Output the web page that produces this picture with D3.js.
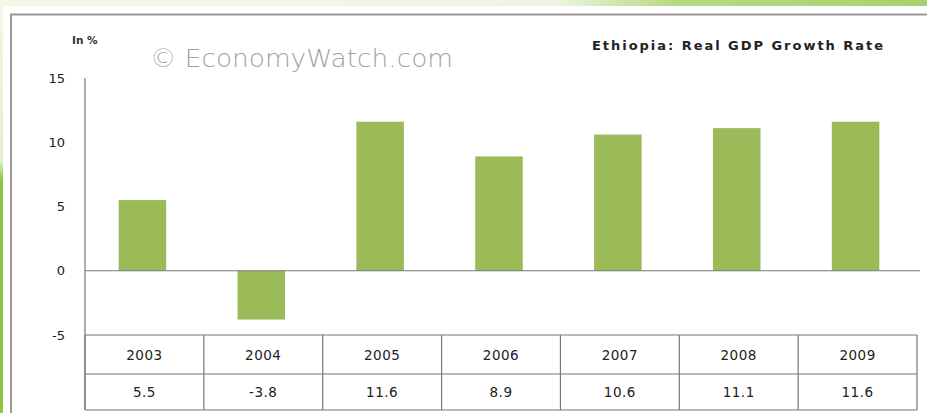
<!DOCTYPE html>
<html><head><meta charset="utf-8">
<script src="https://cdn.jsdelivr.net/npm/d3@7"></script>
<style>body{margin:0;background:#fff;}svg{display:block;}</style>
</head><body>
<svg id="c" width="927" height="413"></svg>
<script>
const years = ["2003","2004","2005","2006","2007","2008","2009"];
const growth = [5.5, -3.8, 11.6, 8.9, 10.6, 11.1, 11.6];
const valueLabels = ["5.5","-3.8","11.6","8.9","10.6","11.1","11.6"];
const yTicks = [15, 10, 5, 0, -5];
const title = "Ethiopia: Real GDP Growth Rate";
const unitLabel = "In %";
const watermark = "\u00A9 EconomyWatch.com";

const svg = d3.select("#c");
const defs = svg.append("defs");
const tg = defs.append("linearGradient").attr("id","tg").attr("x1",0).attr("x2",1).attr("y1",0).attr("y2",0);
tg.append("stop").attr("offset","0").attr("stop-color","#f1f8e6");
tg.append("stop").attr("offset","0.6").attr("stop-color","#eef6e2");
tg.append("stop").attr("offset","0.72").attr("stop-color","#b9da85");
tg.append("stop").attr("offset","1").attr("stop-color","#a9d06c");
svg.append("rect").attr("x",0).attr("y",0).attr("width",927).attr("height",6).attr("fill","url(#tg)");
const lg = defs.append("linearGradient").attr("id","lg").attr("x1",0).attr("x2",0).attr("y1",0).attr("y2",1);
lg.append("stop").attr("offset","0").attr("stop-color","#f1f8e6");
lg.append("stop").attr("offset","0.38").attr("stop-color","#e2f0cc");
lg.append("stop").attr("offset","0.43").attr("stop-color","#8cc63f");
lg.append("stop").attr("offset","1").attr("stop-color","#8cc63f");
svg.append("rect").attr("x",0).attr("y",6).attr("width",3).attr("height",407).attr("fill","url(#lg)");

// frame
svg.append("line").attr("x1",10).attr("x2",927).attr("y1",14.5).attr("y2",14.5).attr("stroke","#999").attr("stroke-width",2);
svg.append("line").attr("x1",11).attr("x2",11).attr("y1",14).attr("y2",413).attr("stroke","#999").attr("stroke-width",2);

const x0 = 85, x1 = 917;
const y = d3.scaleLinear().domain([-5, 15]).range([335, 78]);
const x = d3.scaleBand().domain(years).range([x0, x1]).paddingInner(0).paddingOuter(0);
const barW = x.bandwidth() * 0.4;

// watermark
svg.append("text").attr("x",150).attr("y",67).attr("font-family","DejaVu Sans, sans-serif")
  .attr("font-size",24).attr("font-weight",300).attr("fill","#a3a3a3")
  .attr("textLength",303).attr("lengthAdjust","spacingAndGlyphs").text(watermark);

// title
svg.append("text").attr("x",592).attr("y",50).attr("font-family","DejaVu Sans, sans-serif")
  .attr("font-size",13).attr("font-weight","bold").attr("fill","#222")
  .attr("textLength",291).attr("lengthAdjust","spacing").text(title);

svg.append("text").attr("x",72).attr("y",44).attr("font-family","DejaVu Sans, sans-serif")
  .attr("font-size",10.5).attr("font-weight","bold").attr("fill","#333").text(unitLabel);

// y axis
const yAxis = d3.axisLeft(y).tickValues(yTicks).tickSize(0).tickPadding(20).tickFormat(d=>String(d));
const ga = svg.append("g").attr("transform",`translate(${x0},0)`).call(yAxis);
ga.select(".domain").attr("stroke","#777").attr("stroke-width",1.2);
ga.selectAll("text").attr("font-family","DejaVu Sans, sans-serif").attr("font-size",13).attr("fill","#1a1a1a");
ga.select(".domain").attr("d",`M0,${y(15)}V410`);

// bars
svg.append("g").selectAll("rect").data(growth).join("rect")
  .attr("x",(d,i)=>x(years[i]) + x.bandwidth()/2 - barW/2 - 2)
  .attr("width",barW)
  .attr("y",d=>y(Math.max(0,d)))
  .attr("height",d=>Math.abs(y(d)-y(0)))
  .attr("fill","#9bbb59");

// zero line
svg.append("line").attr("x1",x0).attr("x2",x1+3).attr("y1",y(0)).attr("y2",y(0)).attr("stroke","#777").attr("stroke-width",1.2);

// data table
const tTop = y(-5), tMid = 374, tBot = 410;
const tg2 = svg.append("g").attr("stroke","#777").attr("stroke-width",1.2);
[tTop, tMid, tBot].forEach(yy=>tg2.append("line").attr("x1",x0).attr("x2",x1).attr("y1",yy).attr("y2",yy));
years.forEach(yr=>tg2.append("line").attr("x1",x(yr)).attr("x2",x(yr)).attr("y1",tTop).attr("y2",tBot));
tg2.append("line").attr("x1",x1).attr("x2",x1).attr("y1",tTop).attr("y2",tBot);

svg.append("g").selectAll("text").data(years).join("text")
  .attr("x",d=>x(d)+x.bandwidth()/2).attr("y",(tTop+tMid)/2+5)
  .attr("text-anchor","middle").attr("font-family","DejaVu Sans, sans-serif").attr("font-size",13.5)
  .attr("fill","#222").attr("letter-spacing",0.5).text(d=>d);
svg.append("g").selectAll("text").data(valueLabels).join("text")
  .attr("x",(d,i)=>x(years[i])+x.bandwidth()/2).attr("y",(tMid+tBot)/2+5)
  .attr("text-anchor","middle").attr("font-family","DejaVu Sans, sans-serif").attr("font-size",13.5)
  .attr("fill","#222").attr("letter-spacing",0.5).text(d=>d);
</script>
</body></html>
